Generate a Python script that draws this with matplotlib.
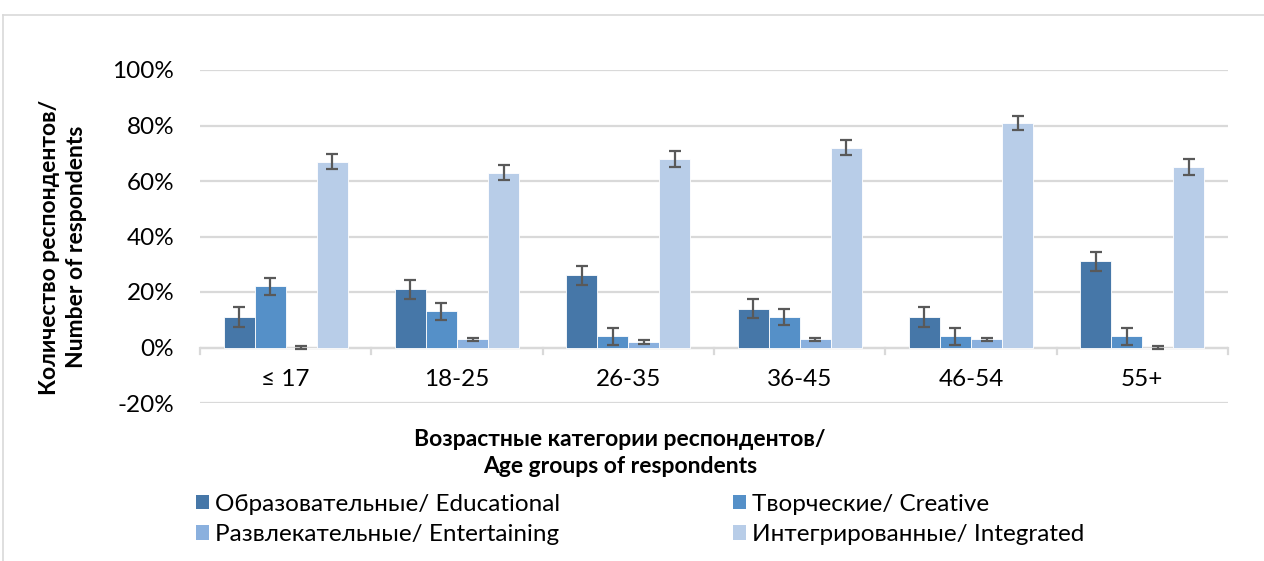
import matplotlib.pyplot as plt
import numpy as np
from matplotlib.patches import Patch
from matplotlib.lines import Line2D

plt.rcParams['font.family'] = ['Lato', 'DejaVu Sans']

groups = ['≤ 17', '18-25', '26-35', '36-45', '46-54', '55+']
series = ['Образовательные/ Educational', 'Творческие/ Creative',
          'Развлекательные/ Entertaining', 'Интегрированные/ Integrated']
educational = [11, 21, 26, 14, 11, 31]
creative = [22, 13, 4, 11, 4, 4]
entertaining = [0, 3, 2, 3, 3, 0]
integrated = [67, 63, 68, 72, 81, 65]
err_educational = [3.5, 3.5, 3.5, 3.5, 3.5, 3.5]
err_creative = [3.1, 3.1, 3.0, 3.0, 3.0, 3.0]
err_entertaining = [0.4, 0.6, 0.6, 0.6, 0.6, 0.4]
err_integrated = [2.7, 2.8, 2.8, 2.8, 2.6, 2.8]
colors = ['#4677a8', '#5590c8', '#8ab0de', '#b8cde8']

values = [educational, creative, entertaining, integrated]
errors = [err_educational, err_creative, err_entertaining, err_integrated]

fig = plt.figure(figsize=(12.64, 5.61), dpi=100)
ax = fig.add_axes([200 / 1264, 1 - 403 / 561, 1028 / 1264, 333 / 561])

x = np.arange(len(groups))
w = 0.181
for i, (vals, errs) in enumerate(zip(values, errors)):
    pos = x + (i - 1.5) * w
    ax.bar(pos, vals, width=w, color=colors[i], edgecolor='white', linewidth=0.6, zorder=2)
    ax.errorbar(pos, vals, yerr=errs, fmt='none', ecolor='#595959', elinewidth=1.6,
                capsize=4.3, capthick=1.6, zorder=3)

ax.set_xlim(-0.5, len(groups) - 0.5)
ax.set_ylim(-20, 100)
ax.set_yticks(range(-20, 101, 20))
ax.set_yticklabels([f'{t}%' for t in range(-20, 101, 20)], fontsize=17.5)
ax.tick_params(axis='y', length=0, pad=18.5)
ax.yaxis.grid(True, color='#d9d9d9', linewidth=1.6, zorder=0)
ax.set_axisbelow(True)
for s in ax.spines.values():
    s.set_visible(False)
ax.set_xticks([])

# category axis at zero with tick marks between groups
ax.axhline(0, color='#d9d9d9', linewidth=1.6, zorder=1)
for b in np.arange(-0.5, len(groups), 1.0):
    ax.plot([b, b], [0, -2.2], color='#d9d9d9', linewidth=1.6, zorder=1, clip_on=False)
for xi, g in zip(x, groups):
    ax.text(xi, -11.5, g, ha='center', va='center', fontsize=17.5)

fig.text(63 / 1264, 1 - 247 / 561, 'Количество респондентов/\nNumber of respondents',
         rotation=90, ha='center', va='center', fontsize=16.5, fontweight='bold',
         linespacing=1.3)
fig.text(620 / 1264, 1 - 453 / 561, 'Возрастные категории респондентов/\nAge groups of respondents',
         ha='center', va='center', fontsize=16.5, fontweight='bold', linespacing=1.35)

order = [0, 2, 1, 3]
handles = [Patch(facecolor=colors[i], edgecolor='none') for i in order]
labels = [series[i] for i in order]
fig.legend(handles, labels, ncol=2, loc='upper left', bbox_to_anchor=(186 / 1264, 1 - 484 / 561),
           frameon=False, fontsize=17.5, handlelength=0.55, handleheight=0.55,
           handletextpad=0.25, columnspacing=7.1, labelspacing=0.38, borderaxespad=0)

# outer chart frame
fig.add_artist(Line2D([3 / 1264, 1], [1 - 15 / 561, 1 - 15 / 561], color='#d9d9d9', linewidth=1.2))
fig.add_artist(Line2D([3 / 1264, 3 / 1264], [0, 1 - 15 / 561], color='#d9d9d9', linewidth=1.2))

fig.savefig('out.png', dpi=100)
